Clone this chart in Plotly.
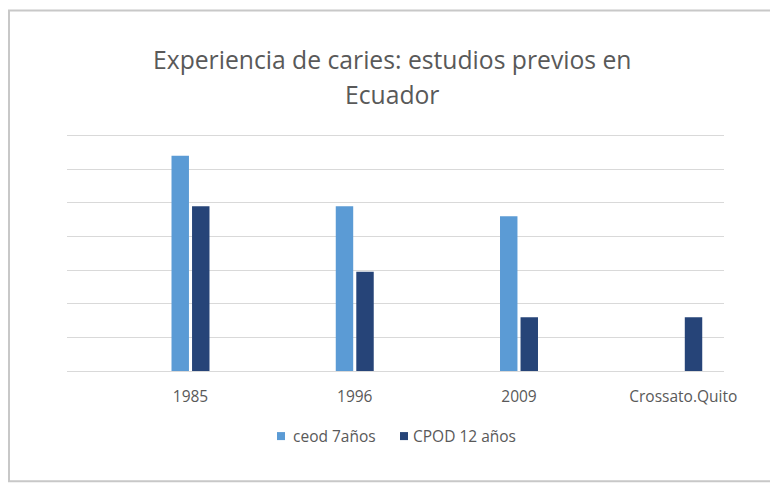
import plotly.graph_objects as go

categories = ["1985", "1996", "2009", "Crossato.Quito"]
ceod_7 = [6.4, 4.9, 4.6, None]
cpod_12 = [4.9, 2.95, 1.6, 1.6]
series_names = ["ceod 7años", "CPOD 12 años"]
series_colors = ["#5B9BD5", "#264478"]
title_lines = ["Experiencia de caries: estudios previos en", "Ecuador"]

# page body margin is removed in the html (post_script), so page px == figure px
W, H = 770, 483
YMAX = 7.05
unit = 235 / 7.0
plot_left, plot_right = 67, 724
plot_bottom = 371
plot_top = 136 - (YMAX - 7) * unit
L, R = plot_left, W - plot_right
T, B = plot_top, H - plot_bottom
pw, ph = plot_right - plot_left, plot_bottom - plot_top

FONT = "Open Sans"
GREY = "#595959"

fig = go.Figure()
fig.add_trace(go.Bar(x=categories, y=ceod_7, name=series_names[0],
                     marker=dict(color=series_colors[0], line=dict(width=0))))
fig.add_trace(go.Bar(x=categories, y=cpod_12, name=series_names[1],
                     marker=dict(color=series_colors[1], line=dict(width=0))))

def px(x):
    return (x - L) / pw

def py(y):
    return (plot_bottom - y) / ph

# chart frame: left, top and bottom edges (right edge runs off the picture)
fx0, fx1, fy0, fy1 = px(9), px(800), py(481), py(11)
fig.add_shape(type="path", xref="paper", yref="paper",
              path=f"M {fx1},{fy1} L {fx0},{fy1} L {fx0},{fy0} L {fx1},{fy0}",
              line=dict(color="#C8C8C8", width=2), layer="below")

# title
for i, ty in enumerate([60, 95]):
    fig.add_annotation(text=title_lines[i], xref="paper", yref="paper",
                       x=px(392), y=py(ty), showarrow=False, xanchor="center", yanchor="middle",
                       font=dict(family=FONT, size=24.7, color=GREY))

# legend (drawn manually for exact spacing)
leg_items = [(277, 291), (400, 411)]
for (sx, tx), name, col in zip(leg_items, series_names, series_colors):
    fig.add_shape(type="rect", xref="paper", yref="paper",
                  x0=px(sx), x1=px(sx + 8), y0=py(440), y1=py(432),
                  line=dict(width=0), fillcolor=col)
    fig.add_annotation(text=name, xref="paper", yref="paper",
                       x=px(tx), y=py(436), showarrow=False, xanchor="left", yanchor="middle",
                       font=dict(family=FONT, size=15.5, color=GREY))

# category axis offset so that labels sit under the bar groups as in the reference
cat_unit = pw / 4.0
x0_range = -(190.5 - 67) / cat_unit
x1_range = x0_range + 4.0

fig.update_layout(
    width=W, height=H,
    margin=dict(l=L, r=R, t=T, b=B, pad=0, autoexpand=False),
    paper_bgcolor="white", plot_bgcolor="white",
    barmode="group", bargap=0.75, bargroupgap=0.15,
    font=dict(family=FONT, size=15, color=GREY),
    showlegend=False,
    xaxis=dict(range=[x0_range, x1_range], showline=False, showgrid=False, ticks="",
               tickfont=dict(size=15.5, color=GREY), ticklabelstandoff=14),
    yaxis=dict(range=[0, YMAX], dtick=1, showticklabels=False, showgrid=True,
               gridcolor="#D9D9D9", gridwidth=1, zeroline=True, zerolinecolor="#D9D9D9",
               zerolinewidth=1, showline=False, ticks=""),
)

fig.write_html("out.html",
               config={"displayModeBar": False},
               post_script="document.body.style.margin='0';document.body.style.overflow='hidden';")
